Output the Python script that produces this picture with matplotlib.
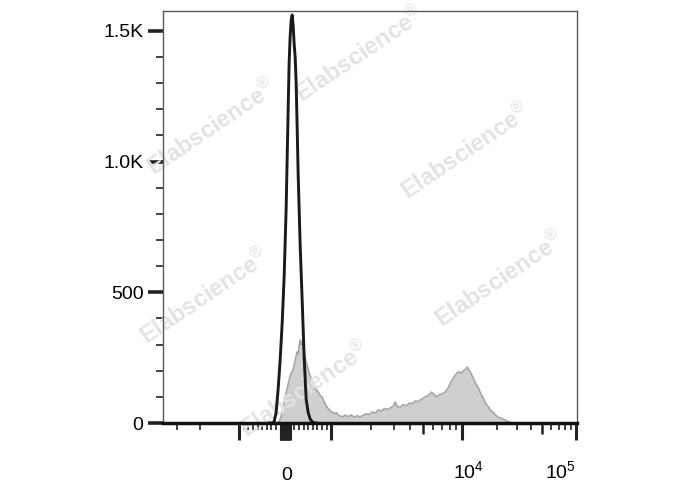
import numpy as np
import matplotlib
matplotlib.use('Agg')
import matplotlib.pyplot as plt
import matplotlib.transforms as mtransforms

plt.rcParams['font.family'] = ['Liberation Sans', 'DejaVu Sans']
plt.rcParams['mathtext.fontset'] = 'custom'
plt.rcParams['mathtext.rm'] = 'Liberation Sans'

# histogram data on the biexponential display axis (channel 0 = fluorescence 0)
stained_chan = [-9, -6, -4, -2, 0, 2, 4, 6, 8, 10, 12, 13, 14, 15, 16, 17, 18, 20, 22, 23,
                25, 27, 29, 31, 33, 35, 37, 39, 41, 43, 45, 47, 49, 51, 53, 55, 57, 60, 63, 66,
                69, 72, 75, 78, 81, 84, 87, 90, 93, 96, 99, 102, 105, 108, 110, 112, 115, 118,
                121, 124, 127, 130, 133, 135, 138, 141, 144, 146, 148, 151, 154, 157, 160, 163,
                165, 167, 170, 172, 174, 176, 178, 180, 182, 184, 186, 188, 190, 193, 195, 198,
                200, 203, 205, 208, 210, 213, 215, 218, 220, 223, 226, 229]
stained_count = [0, 5, 25, 60, 100, 130, 165, 190, 205, 240, 272, 265, 295, 318, 300, 310, 285,
                 250, 220, 205, 180, 160, 140, 128, 118, 105, 99, 80, 65, 55, 46, 42, 36, 40, 30,
                 27, 23, 30, 24, 31, 22, 28, 23, 30, 35, 33, 42, 38, 50, 46, 55, 52, 57, 65, 80,
                 62, 61, 70, 66, 76, 74, 84, 82, 88, 96, 102, 108, 118, 112, 100, 108, 112, 119,
                 135, 153, 165, 184, 192, 196, 190, 200, 205, 214, 200, 188, 170, 153, 135, 115,
                 95, 76, 62, 50, 40, 31, 22, 19, 14, 11, 5, 1, 0]

control_chan = [-15, -13, -11, -9, -7, -5, -3, -1, 1, 3, 4, 5, 6, 7, 8, 9, 10, 11, 12, 13,
                15, 17, 19, 21, 23, 25, 27, 29, 31]
control_count = [0, 0, 5, 40, 130, 240, 380, 560, 820, 1200, 1380, 1480, 1540, 1561, 1520,
                 1450, 1400, 1300, 1130, 950, 680, 470, 250, 90, 40, 15, 5, 0, 0]

ytick_vals = [0, 500, 1000, 1500]
ytick_labels = ['0', '500', '1.0K', '1.5K']


def biex(v):
    # display position of a fluorescence value
    a = abs(v)
    if a <= 1e3:
        d = a / 1e3 * 46
    elif a <= 1e4:
        d = 46 + 131 * np.log10(a / 1e3)
    else:
        d = 177 + 114 * np.log10(a / 1e4)
    return np.sign(v) * d


fig = plt.figure(figsize=(6.88, 4.90), dpi=100)
ax = fig.add_axes([163/688, 67/490, 414/688, 412/490])

ax.fill_between(stained_chan, stained_count, 0, color='#cfcfcf', lw=0, zorder=2)
ax.plot(stained_chan, stained_count, color='#a6a6a6', lw=1.2, zorder=2.2)
ax.plot(control_chan, control_count, color='#1a1a1a', lw=2.1, zorder=3,
        solid_joinstyle='round')

ax.set_xlim(-122, biex(1e5) + 0.5)
ax.set_ylim(0, 1576)

# watermarks
marks = [(360, 55), (212, 128), (466, 152), (500, 280), (205, 297), (305, 390)]
for mx, my in marks:
    ax.text(mx/688, 1 - my/490, 'Elabscience' + r'$^{\circledR}$', transform=fig.transFigure,
            rotation=34, fontsize=17, fontweight='bold', color='#e3e3e3',
            ha='center', va='center', zorder=2.5, clip_on=False)

# spines
for s in ['left', 'top', 'right']:
    ax.spines[s].set_color('#5a5a5a')
    ax.spines[s].set_linewidth(1.0)
ax.spines['bottom'].set_color('#111111')
ax.spines['bottom'].set_linewidth(2.5)
ax.spines['bottom'].set_zorder(4)

# y ticks
ax.set_yticks(ytick_vals)
ax.set_yticklabels(ytick_labels, fontsize=14)
ax.set_yticks(np.arange(100, 1576, 100), minor=True)
ax.tick_params(axis='y', which='major', direction='out', length=11, width=2.6,
               color='#222222', pad=3)
ax.tick_params(axis='y', which='minor', direction='out', length=5, width=1.2,
               color='#222222')

# x ticks (biexponential)
near_zero = [v for v in range(-100, 101, 20)]
x_major = [-1e3, 1e3, 1e4, 1e5] + near_zero
x_minor = [-3000, -2000] + [-v for v in range(100, 1000, 100)] + list(range(100, 1000, 100)) \
    + [m * 1e3 for m in (2, 3, 4, 6, 7, 8, 9)] + [m * 1e4 for m in (2, 3, 4, 6, 7, 8, 9)]
ax.set_xticks([biex(v) for v in x_major])
ax.set_xticks([biex(v) for v in x_minor], minor=True)
ax.set_xticklabels([])
ax.tick_params(axis='x', which='major', direction='out', length=12, width=2.2,
               color='#222222')
ax.tick_params(axis='x', which='minor', direction='out', length=5, width=1.2,
               color='#222222')
sec = ax.secondary_xaxis('bottom')
sec.spines['bottom'].set_visible(False)
sec.set_xticks([biex(5e3), biex(5e4)])
sec.set_xticklabels([])
sec.tick_params(axis='x', direction='out', length=8, width=1.8, color='#222222')

# x tick labels
trans = mtransforms.blended_transform_factory(ax.transData, ax.transAxes)
ax.text(biex(0) + 2, -0.138, '0', transform=trans, ha='center', va='baseline', fontsize=14)
ax.text(biex(1e4) + 6, -0.134, r'$\mathregular{10^{4}}$', transform=trans, ha='center',
        va='baseline', fontsize=14)
ax.text(biex(1e5) - 1, -0.134, r'$\mathregular{10^{5}}$', transform=trans, ha='right',
        va='baseline', fontsize=14)

fig.savefig('out.png', dpi=100)
